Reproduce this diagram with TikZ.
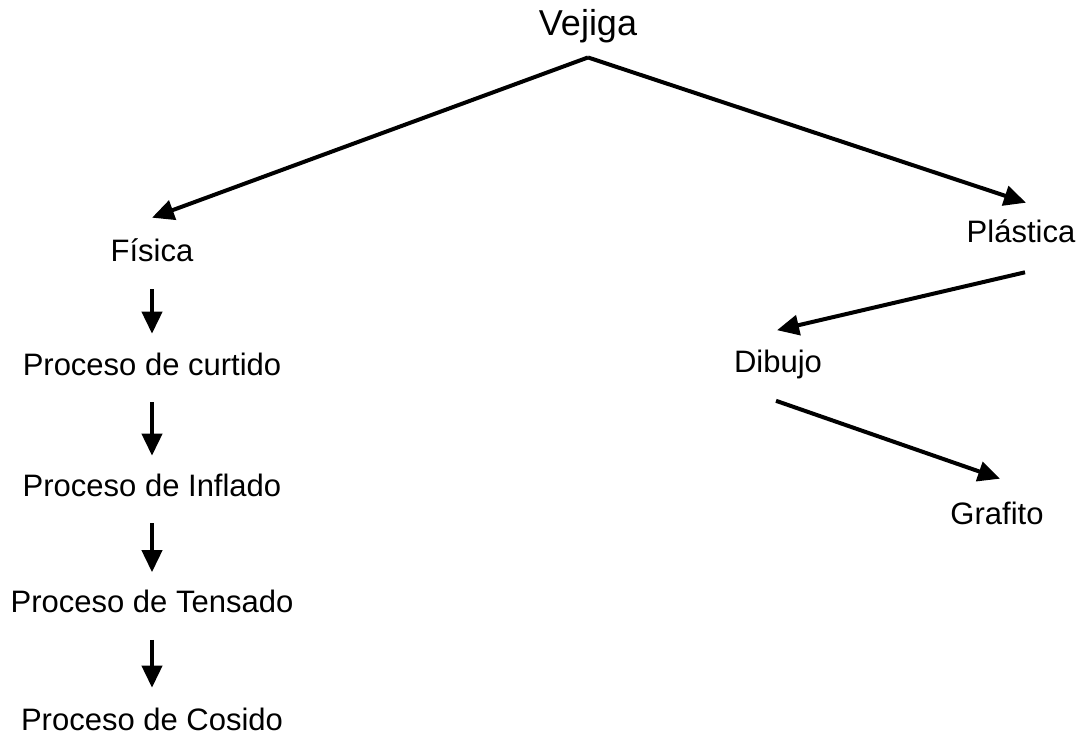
\documentclass[tikz,border=0pt]{standalone}
\usepackage{fontspec}
\setmainfont{Liberation Sans}
\usetikzlibrary{arrows.meta,calc}
\begin{document}
\begin{tikzpicture}[x=1pt,y=-1pt,
  lbl/.style={inner sep=0pt, text height=22.2pt, text depth=0pt, font=\fontsize{31}{31}\selectfont},
  ttl/.style={inner sep=0pt, text height=25.5pt, text depth=0pt, font=\fontsize{36}{36}\selectfont},
  conn/.style={line width=4pt, -{Triangle[length=22pt,width=20pt]}}]
\useasboundingbox (0,0) rectangle (1089,736);
\node[ttl] (vejiga) at (588,22.5) {Vejiga};
\node[lbl] (fisica) at (152,250) {Física};
\node[lbl] (curtido) at (152,364) {Proceso de curtido};
\node[lbl] (inflado) at (152,485) {Proceso de Inflado};
\node[lbl] (tensado) at (152,601.5) {Proceso de Tensado};
\node[lbl] (cosido) at (152,719) {Proceso de Cosido};
\node[lbl] (plastica) at (1021,231) {Plástica};
\node[lbl] (dibujo) at (778,361.5) {Dibujo};
\node[lbl] (grafito) at (997,513) {Grafito};
\draw[conn] ($(vejiga.south)+(0,22)$) -- ($(fisica.north)+(0,-21)$);
\draw[conn] ($(vejiga.south)+(0,22)$) -- ($(plastica.north)+(5,-17)$);
\draw[conn] ($(fisica.south)+(0,28)$) -- ($(curtido.north)+(0,-19)$);
\draw[conn] ($(curtido.south)+(0,27)$) -- ($(inflado.north)+(0,-18)$);
\draw[conn] ($(inflado.south)+(0,27)$) -- ($(tensado.north)+(0,-18)$);
\draw[conn] ($(tensado.south)+(0,27)$) -- ($(cosido.north)+(0,-20)$);
\draw[conn] ($(plastica.south)+(4,30)$) -- ($(dibujo.north)+(-1,-20)$);
\draw[conn] ($(dibujo.south)+(-2,28)$) -- ($(grafito.north)+(3,-23)$);
\end{tikzpicture}
\end{document}
